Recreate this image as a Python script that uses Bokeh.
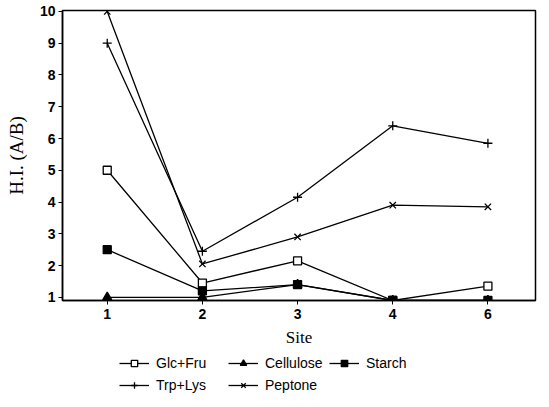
from bokeh.plotting import figure
from bokeh.layouts import column
from bokeh.models import Range1d, FixedTicker, Legend, LegendItem
from bokeh.embed import file_html
from bokeh.resources import INLINE

sites = ["1", "2", "3", "4", "6"]
glc_fru = [5.0, 1.45, 2.15, 0.9, 1.35]
cellulose = [1.0, 1.0, 1.4, 0.9, 0.9]
starch = [2.5, 1.2, 1.4, 0.9, 0.9]
trp_lys = [9.0, 2.45, 4.15, 6.4, 5.85]
peptone = [10.0, 2.05, 2.9, 3.9, 3.85]
y_ticks = [1, 2, 3, 4, 5, 6, 7, 8, 9, 10]
series_names = ["Glc+Fru", "Cellulose", "Starch", "Trp+Lys", "Peptone"]

xs = list(range(1, len(sites) + 1))

p = figure(width=540, height=350, output_backend="svg", toolbar_location=None,
           x_range=Range1d(0.53, 5.5), y_range=Range1d(0.9, 10.03),
           min_border_left=62, min_border_right=5, min_border_top=10, min_border_bottom=50)
p.xgrid.visible = False
p.ygrid.visible = False
p.outline_line_color = "black"
p.outline_line_width = 1.5
p.outline_line_alpha = 1.0

for ax in (p.xaxis[0], p.yaxis[0]):
    ax.axis_line_width = 1.5
    ax.major_tick_in = 0
    ax.major_tick_out = 4
    ax.minor_tick_in = 0
    ax.minor_tick_out = 0
    ax.major_label_text_font = "Liberation Sans"
    ax.major_label_text_font_style = "bold"
    ax.major_label_text_font_size = "14px"
    ax.major_label_text_color = "black"
    ax.axis_label_text_font = "Liberation Serif"
    ax.axis_label_text_font_style = "normal"
    ax.axis_label_text_color = "black"

p.xaxis.ticker = FixedTicker(ticks=xs)
p.xaxis.major_label_overrides = {x: s for x, s in zip(xs, sites)}
p.xaxis.major_label_standoff = 4
p.yaxis.ticker = FixedTicker(ticks=y_ticks)
p.yaxis.major_label_standoff = 3
p.xaxis.axis_label = "Site"
p.yaxis.axis_label = "H.I. (A/B)"
p.xaxis.axis_label_text_font_size = "17px"
p.yaxis.axis_label_text_font_size = "19px"
p.xaxis.axis_label_standoff = 6
p.yaxis.axis_label_standoff = 10

styles = [
    ("square", "white", 8),
    ("triangle", "black", 9),
    ("square", "black", 8),
    ("cross", "black", 9),
    ("x", "black", 9),
]
values = [glc_fru, cellulose, starch, trp_lys, peptone]

# legend-only strip under the chart (its frame is aligned with the chart frame)
lf = figure(width=540, height=55, output_backend="svg", toolbar_location=None,
            x_range=Range1d(0, 1), y_range=Range1d(0, 1),
            min_border_left=0, min_border_right=0, min_border_top=0, min_border_bottom=0)
lf.axis.visible = False
lf.xgrid.visible = False
lf.ygrid.visible = False
lf.outline_line_color = None

# (x of glyph left, y of item bottom) in legend strip frame pixels
slots = [(57, 34), (166, 34), (267, 34), (57, 12), (166, 12)]

for name, ys, (mk, fill, sz), loc in zip(series_names, values, styles, slots):
    p.line(xs, ys, line_color="black", line_width=1.3)
    p.scatter(xs, ys, marker=mk, size=sz, line_color="black", fill_color=fill, line_width=1.3)
    l = lf.line([-5, -4], [-5, -4], line_color="black", line_width=1.3)
    m = lf.scatter([-5], [-5], marker=mk, size=sz - 1, line_color="black", fill_color=fill, line_width=1.3)
    leg = Legend(items=[LegendItem(label=name, renderers=[l, m])],
                 label_text_font="Liberation Sans", label_text_font_size="14px",
                 label_text_color="black", glyph_width=30, glyph_height=16,
                 label_standoff=7, spacing=0, padding=0, margin=0,
                 border_line_alpha=0, background_fill_alpha=0,
                 location=loc)
    lf.add_layout(leg, "center")

open("out.html", "w").write(file_html(column(p, lf, spacing=0), INLINE))
